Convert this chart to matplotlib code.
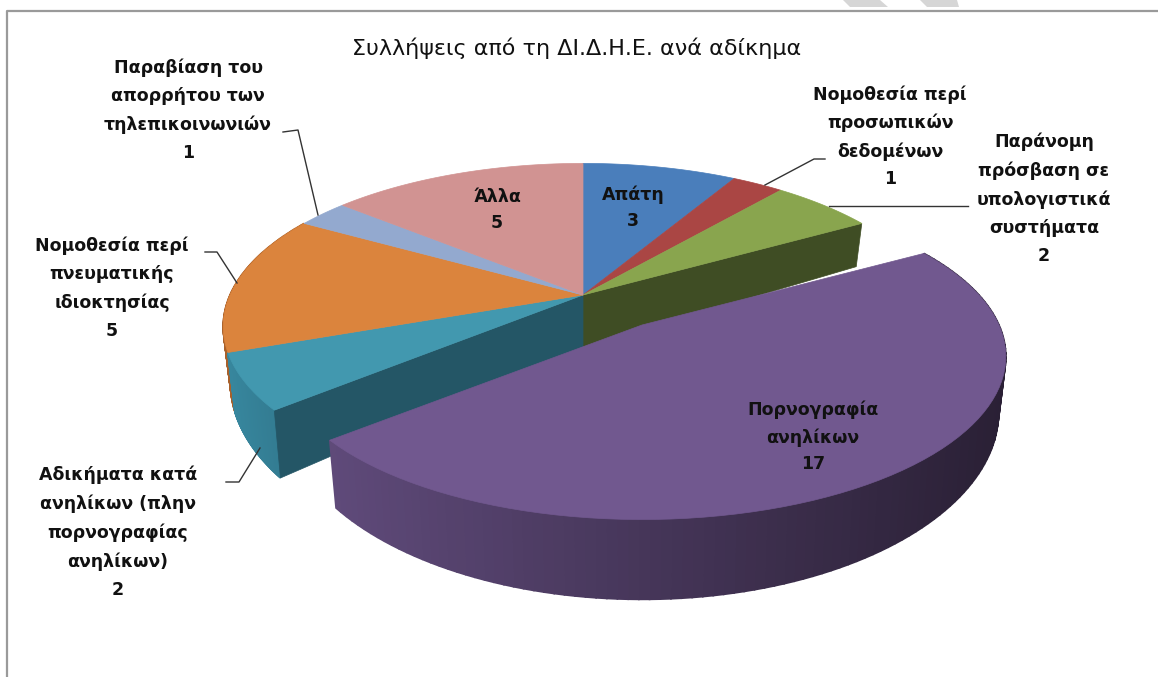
import numpy as np
import matplotlib
matplotlib.use('Agg')
import matplotlib.pyplot as plt
from matplotlib.patches import Polygon

# data
categories = ['Απάτη', 'Νομοθεσία περί\nπροσωπικών\nδεδομένων', 'Παράνομη\nπρόσβαση σε\nυπολογιστικά\nσυστήματα',
              'Πορνογραφία\nανηλίκων', 'Αδικήματα κατά\nανηλίκων (πλην\nπορνογραφίας\nανηλίκων)',
              'Νομοθεσία περί\nπνευματικής\nιδιοκτησίας', 'Παραβίαση του\nαπορρήτου των\nτηλεπικοινωνιών', 'Άλλα']
values = [3, 1, 2, 17, 2, 5, 1, 5]
top_colors = ['#4a7ebb', '#aa4644', '#89a54e', '#71588f', '#4298af', '#db843d', '#93a9cf', '#d19392']
title = 'Συλλήψεις από τη ΔΙ.Δ.Η.Ε. ανά αδίκημα'

# label centres in pixels
label_x = [633, 890, 1044, 813, 118, 112, 188, 497]
label_y = [208, 137, 199, 437, 532, 288, 110, 210]
label_sp = [1.6, 1.68, 1.72, 1.6, 1.72, 1.72, 1.72, 1.6]

# leader lines
leaders = [
    ([283, 298, 318], [132, 130, 215]),
    ([205, 217, 237], [252, 252, 283]),
    ([226, 239, 260], [482, 482, 448]),
    ([825, 814, 765], [159, 159, 185]),
    ([968, 829], [206, 206]),
]

# pie projection
cx, cy = 583, 295
rx_pie, rx_out, ry = 353, 357, 157
persp = 0.193
depth = 52
shrink = 0.98
explode_idx = 3
explode_dx, explode_dy = 59, 30


def rim(deg, ox=0, oy=0, rx=rx_pie):
    t = np.radians(deg)
    u = np.sin(t)
    v = -np.cos(t)
    w = 1 - persp * v
    x = cx + ox + rx * u / w
    y = cy + oy + ry * v / w
    return x, y, cx + ox + (x - cx - ox) * shrink, y + depth / w ** 2


def top_face(a0, a1, color, ox=0, oy=0, rx=rx_pie, z=3):
    angs = np.linspace(a0, a1, 80)
    pts = [(cx + ox, cy + oy)] + [rim(a, ox, oy, rx)[:2] for a in angs]
    ax.add_patch(Polygon(pts, closed=True, fc=color, ec=color, lw=0.5, zorder=z))


def side_face(a0, a1, c0, c1, ox=0, oy=0, rx=rx_pie, z=1):
    # outer wall, colour runs from the left end to the right end
    angs = np.linspace(a0, a1, 121)
    c0 = np.array(matplotlib.colors.to_rgb(c0))
    c1 = np.array(matplotlib.colors.to_rgb(c1))
    xs = [rim(a, ox, oy, rx)[0] for a in angs]
    lo, hi = min(xs), max(xs)
    for a, b, x in zip(angs[:-1], angs[1:], xs):
        x0, y0, x2, y2 = rim(a, ox, oy, rx)
        x1, y1, x3, y3 = rim(b, ox, oy, rx)
        f = (x - lo) / (hi - lo)
        col = c0 + (c1 - c0) * f
        ax.add_patch(Polygon([(x0, y0), (x1, y1), (x3, y3), (x2, y2)], closed=True, fc=col, ec=col, lw=1.2, zorder=z))


def cut_face(deg, color, z=2):
    x, y, xb, yb = rim(deg)
    ax.add_patch(Polygon([(cx, cy), (x, y), (xb, yb), (cx, cy + depth)], closed=True, fc=color, ec=color, lw=0.5, zorder=z))


fig = plt.figure(figsize=(11.58, 6.77), dpi=100)
ax = fig.add_axes([0, 0, 1, 1])
ax.set_xlim(0, 1158)
ax.set_ylim(677, 0)
ax.axis('off')

# faint watermark pieces and chart frame
ax.add_patch(Polygon([(843, 0), (880, 0), (888, 7), (850, 7)], fc='#d6d6d6', ec='none', zorder=0))
ax.add_patch(Polygon([(920, 0), (957, 0), (959, 7), (927, 7)], fc='#d6d6d6', ec='none', zorder=0))
ax.plot([6.5, 6.5, 1158], [677, 11, 11], color='#9a9a9a', lw=1.6, zorder=0)

# slices, clockwise from the top
edges = np.concatenate([[0], np.cumsum(values)]) * 360 / sum(values)
a_green, a_purple = edges[explode_idx], edges[explode_idx + 1]

side_face(edges[5], edges[6], '#a8602a', '#b5682c')
side_face(edges[4], edges[5], '#37869d', '#337c92')
cut_face(a_green, '#3f4d24')
cut_face(a_purple, '#245666')

for i in range(len(values)):
    if i != explode_idx:
        top_face(edges[i], edges[i + 1], top_colors[i])

side_face(a_green, a_purple, '#5f4a7a', '#2a2035', explode_dx, explode_dy, rx_out, z=4)
top_face(a_green, a_purple, top_colors[explode_idx], explode_dx, explode_dy, rx_out, z=5)

# labels
for name, val, x, y, sp in zip(categories, values, label_x, label_y, label_sp):
    ax.text(x, y, f'{name}\n{val}', ha='center', va='center', fontsize=12.5, fontweight='bold',
            family='DejaVu Sans', linespacing=sp, color='#111111', zorder=8)

for xs, ys in leaders:
    ax.plot(xs, ys, color='#333333', lw=1, zorder=7)

ax.text(577, 48, title, ha='center', va='center', fontsize=16, family='DejaVu Sans', color='#111111', zorder=8)

fig.savefig('out.png', dpi=100)
